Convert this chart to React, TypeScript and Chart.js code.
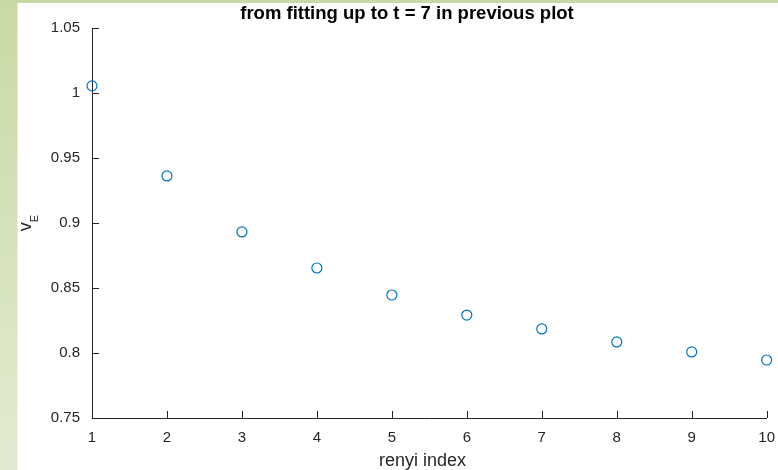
import React, { useEffect, useRef } from "react";
import { Chart, registerables } from "chart.js";

Chart.register(...registerables);

const renyiIndex = [1, 2, 3, 4, 5, 6, 7, 8, 9, 10];
const nuE = [1.0055, 0.9362, 0.8931, 0.8654, 0.8446, 0.8292, 0.8185, 0.8085, 0.8008, 0.7946];
const yTickValues = [0.75, 0.8, 0.85, 0.9, 0.95, 1, 1.05];
const xTickValues = [1, 2, 3, 4, 5, 6, 7, 8, 9, 10];
const titleText = "from fitting up to t = 7 in previous plot";
const xTitle = "renyi index";
const yTitleMain = "v";
const yTitleSub = "E";

const AXIS = "#262626";
const FONT = "'Liberation Sans', Arial, Helvetica, sans-serif";

const decorPlugin = {
  id: "decor",
  beforeDraw(chart: any) {
    const { ctx, width, height } = chart;
    ctx.save();
    ctx.fillStyle = "#ffffff";
    ctx.fillRect(0, 0, width, height);
    const g = ctx.createLinearGradient(0, 0, 0, height);
    g.addColorStop(0, "#c8daa4");
    g.addColorStop(1, "#e2ebd2");
    ctx.fillStyle = g;
    ctx.fillRect(0, 0, 17.5, height);
    ctx.fillStyle = "#c8daa4";
    ctx.fillRect(0, 0, width, 3);
    ctx.restore();
  },
  afterDraw(chart: any) {
    const { ctx, chartArea, scales } = chart;
    const xs = scales.x;
    const ys = scales.y;
    ctx.save();
    ctx.strokeStyle = AXIS;
    ctx.lineWidth = 1;
    ctx.beginPath();
    const tl = 7;
    xs.ticks.forEach((t: any) => {
      const px = Math.round(xs.getPixelForValue(t.value)) + 0.5;
      ctx.moveTo(px, chartArea.bottom);
      ctx.lineTo(px, chartArea.bottom - tl);
    });
    ys.ticks.forEach((t: any) => {
      const py = Math.round(ys.getPixelForValue(t.value)) + 0.5;
      ctx.moveTo(chartArea.left, py);
      ctx.lineTo(chartArea.left + tl, py);
    });
    ctx.stroke();

    // x-axis title
    ctx.fillStyle = AXIS;
    ctx.font = `18px ${FONT}`;
    ctx.textAlign = "center";
    ctx.textBaseline = "alphabetic";
    ctx.fillText(xTitle, 422.5, 466);

    // y-axis title with subscript
    ctx.translate(31, 223);
    ctx.rotate(-Math.PI / 2);
    ctx.font = `18px ${FONT}`;
    const wMain = ctx.measureText(yTitleMain).width;
    ctx.font = `11px ${FONT}`;
    const wSub = ctx.measureText(yTitleSub).width;
    const total = wMain + wSub;
    ctx.textAlign = "left";
    ctx.font = `18px ${FONT}`;
    ctx.fillText(yTitleMain, -total / 2, 0);
    ctx.font = `11px ${FONT}`;
    ctx.fillText(yTitleSub, -total / 2 + wMain, 7);
    ctx.restore();
  },
};

export default function App() {
  const ref = useRef<HTMLCanvasElement | null>(null);
  useEffect(() => {
    if (!ref.current) return;
    const chart = new Chart(ref.current, {
      type: "scatter",
      data: {
        datasets: [
          {
            data: renyiIndex.map((x, i) => ({ x, y: nuE[i] })),
            showLine: false,
            pointStyle: "circle",
            pointRadius: 5,
            pointHoverRadius: 5,
            pointBorderColor: "#0072BD",
            pointBackgroundColor: "rgba(0,0,0,0)",
            pointBorderWidth: 1.2,
            clip: false,
          } as any,
        ],
      },
      options: {
        responsive: false,
        animation: false,
        events: [],
        layout: { padding: { left: 47, right: 11, top: 0, bottom: 0 } },
        plugins: {
          legend: { display: false },
          tooltip: { enabled: false },
          title: {
            display: true,
            text: titleText,
            color: "#000000",
            font: { family: FONT, size: 18.5, weight: "bold" },
            lineHeight: 1.2,
            padding: { top: 3, bottom: 2.8 },
          },
        },
        scales: {
          x: {
            type: "linear",
            min: 1,
            max: 10,
            afterBuildTicks: (s: any) => {
              s.ticks = xTickValues.map((v) => ({ value: v }));
            },
            afterFit: (s: any) => {
              s.height = 52;
            },
            grid: { display: false },
            border: { display: true, color: AXIS, width: 1 },
            ticks: {
              color: AXIS,
              font: { family: FONT, size: 15 },
              padding: 3,
              maxRotation: 0,
              callback: (v: any) => String(v),
            },
          },
          y: {
            type: "linear",
            min: 0.75,
            max: 1.05,
            afterBuildTicks: (s: any) => {
              s.ticks = yTickValues.map((v) => ({ value: v }));
            },
            afterFit: (s: any) => {
              s.width = 45;
            },
            grid: { display: false },
            border: { display: true, color: AXIS, width: 1 },
            ticks: {
              color: AXIS,
              font: { family: FONT, size: 15 },
              padding: 4,
              callback: (v: any) => String(Number(Number(v).toFixed(2))),
            },
          },
        },
      },
      plugins: [decorPlugin],
    });
    return () => chart.destroy();
  }, []);
  return (
    <canvas
      ref={ref}
      width={778}
      height={470}
      style={{ position: "absolute", left: 0, top: 0, display: "block" }}
    />
  );
}
